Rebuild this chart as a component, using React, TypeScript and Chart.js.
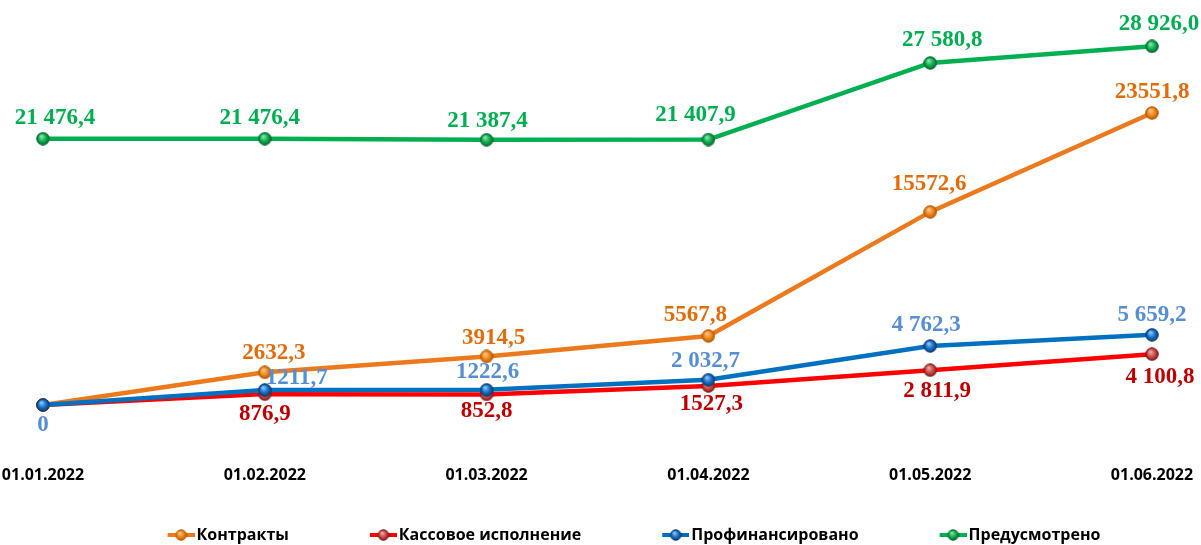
import React, { useEffect, useRef } from "react";
import { Chart, registerables } from "chart.js";

Chart.register(...registerables);

// ---------- data ----------
const categories = ["01.01.2022", "01.02.2022", "01.03.2022", "01.04.2022", "01.05.2022", "01.06.2022"];
const seriesNames = ["Контракты", "Кассовое исполнение", "Профинансировано", "Предусмотрено"];

const contracts = [0, 2632.3, 3914.5, 5567.8, 15572.6, 23551.8];
const cash = [0, 876.9, 852.8, 1527.3, 2811.9, 4100.8];
const financed = [0, 1211.7, 1222.6, 2032.7, 4762.3, 5659.2];
const planned = [21476.4, 21476.4, 21387.4, 21407.9, 27580.8, 28926.0];

const contractsLabels = ["", "2632,3", "3914,5", "5567,8", "15572,6", "23551,8"];
const cashLabels = ["", "876,9", "852,8", "1527,3", "2 811,9", "4 100,8"];
const financedLabels = ["0", "1211,7", "1222,6", "2 032,7", "4 762,3", "5 659,2"];
const plannedLabels = ["21 476,4", "21 476,4", "21 387,4", "21 407,9", "27 580,8", "28 926,0"];

// ---------- styles ----------
const LABEL_FONT = "bold 23px 'Liberation Serif', 'Times New Roman', serif";

type Style = {
  line: string;
  label: string;
  dot: [string, string, string];
  offsets: [number, number][];
  order: number;
};

const styles: Style[] = [
  {
    line: "#EC7A1C",
    label: "#E36C09",
    dot: ["#FFC68A", "#F08A1E", "#B85A00"],
    offsets: [[0, 0], [9, -19], [7, -18], [-13, -21], [-1, -28], [0, -21]],
    order: 1,
  },
  {
    line: "#FF0000",
    label: "#C00000",
    dot: ["#F2A8A8", "#C9504F", "#8B1A1A"],
    offsets: [[0, 0], [0, 20], [0, 17], [3, 18], [7, 21], [8, 23]],
    order: 2,
  },
  {
    line: "#0070C0",
    label: "#558ED5",
    dot: ["#8CC8FF", "#1A73C8", "#0A3D73"],
    offsets: [[0, 20], [32, -12], [1, -18], [-3, -19], [-4, -21], [0, -20]],
    order: 0,
  },
  {
    line: "#00B050",
    label: "#00B050",
    dot: ["#8AE6AA", "#12B052", "#006B30"],
    offsets: [[12, -21], [-5, -21], [1, -19], [-13, -24], [12, -23], [7, -22]],
    order: 3,
  },
];

const seriesValues = [contracts, cash, financed, planned];
const seriesLabels = [contractsLabels, cashLabels, financedLabels, plannedLabels];

function makeDot(colors: [string, string, string], size: number): HTMLCanvasElement {
  const c = document.createElement("canvas");
  c.width = size;
  c.height = size;
  const g = c.getContext("2d")!;
  const r = size / 2 - 0.75;
  const grad = g.createRadialGradient(size * 0.38, size * 0.32, 0.5, size / 2, size / 2, r);
  grad.addColorStop(0, colors[0]);
  grad.addColorStop(0.55, colors[1]);
  grad.addColorStop(1, colors[2]);
  g.beginPath();
  g.arc(size / 2, size / 2, r, 0, Math.PI * 2);
  g.fillStyle = grad;
  g.fill();
  g.lineWidth = 1;
  g.strokeStyle = colors[2];
  g.stroke();
  return c;
}

function makeLegendIcon(st: Style, width: number): HTMLCanvasElement {
  const h = 14;
  const c = document.createElement("canvas");
  c.width = width;
  c.height = h;
  const g = c.getContext("2d")!;
  g.strokeStyle = st.line;
  g.lineWidth = 4;
  g.beginPath();
  g.moveTo(width - 27, h / 2);
  g.lineTo(width, h / 2);
  g.stroke();
  const dot = makeDot(st.dot, 12);
  g.drawImage(dot, width - 13.5 - 6, h / 2 - 6);
  return c;
}

const valueLabelPlugin = {
  id: "valueLabels",
  afterDatasetsDraw(chart: any) {
    const ctx = chart.ctx;
    ctx.save();
    ctx.font = LABEL_FONT;
    ctx.textAlign = "center";
    ctx.textBaseline = "middle";
    chart.data.datasets.forEach((ds: any, i: number) => {
      const meta = chart.getDatasetMeta(i);
      const st = styles[i];
      const labels = seriesLabels[i];
      meta.data.forEach((pt: any, j: number) => {
        const text = labels[j];
        if (!text) return;
        const [dx, dy] = st.offsets[j];
        ctx.fillStyle = st.label;
        ctx.fillText(text, pt.x + dx, pt.y + dy);
      });
    });
    ctx.restore();
  },
};

export default function App() {
  const ref = useRef<HTMLCanvasElement>(null);

  useEffect(() => {
    if (!ref.current) return;
    const BOX_W = 94;
    const datasets = seriesNames.map((name, i) => {
      const st = styles[i];
      return {
        label: name,
        data: seriesValues[i],
        borderColor: st.line,
        backgroundColor: st.line,
        borderWidth: 4.5,
        tension: 0,
        pointStyle: makeDot(st.dot, 14) as any,
        pointRadius: 7,
        pointHoverRadius: 7,
        order: st.order,
        clip: false as any,
      };
    });
    const legendIcons = styles.map((st) => makeLegendIcon(st, BOX_W + 12));

    const chart = new Chart(ref.current, {
      type: "line",
      data: { labels: categories, datasets },
      options: {
        animation: false,
        responsive: false,
        layout: { padding: { left: 43, right: 49, top: 33, bottom: 0 } },
        scales: {
          x: {
            grid: { display: false },
            border: { display: false },
            ticks: {
              color: "#000",
              font: { family: "'Open Sans', sans-serif", weight: "bold", size: 16 },
              padding: 53,
              maxRotation: 0,
              autoSkip: false,
            },
            afterFit(scale: any) {
              scale.height = 114;
              scale.paddingLeft = 0;
              scale.paddingRight = 0;
            },
          },
          y: { display: false, min: 0, max: 30000 },
        },
        plugins: {
          legend: {
            position: "bottom",
            maxHeight: 26,
            labels: {
              usePointStyle: true,
              pointStyleWidth: BOX_W,
              padding: 8,
              color: "#000",
              font: { family: "'Open Sans', sans-serif", weight: "bold", size: 16 },
              generateLabels: (c: any) =>
                c.data.datasets.map((ds: any, i: number) => ({
                  text: ds.label,
                  fillStyle: styles[i].line,
                  strokeStyle: styles[i].line,
                  lineWidth: 0,
                  pointStyle: legendIcons[i],
                  hidden: false,
                  datasetIndex: i,
                  fontColor: "#000",
                })),
            },
          },
          tooltip: { enabled: false },
        },
      },
      plugins: [valueLabelPlugin],
    });
    return () => chart.destroy();
  }, []);

  return (
    <div style={{ position: "absolute", left: 0, top: 0, width: 1201, height: 545, background: "#fff" }}>
      <canvas ref={ref} width={1201} height={545} style={{ display: "block" }} />
    </div>
  );
}
